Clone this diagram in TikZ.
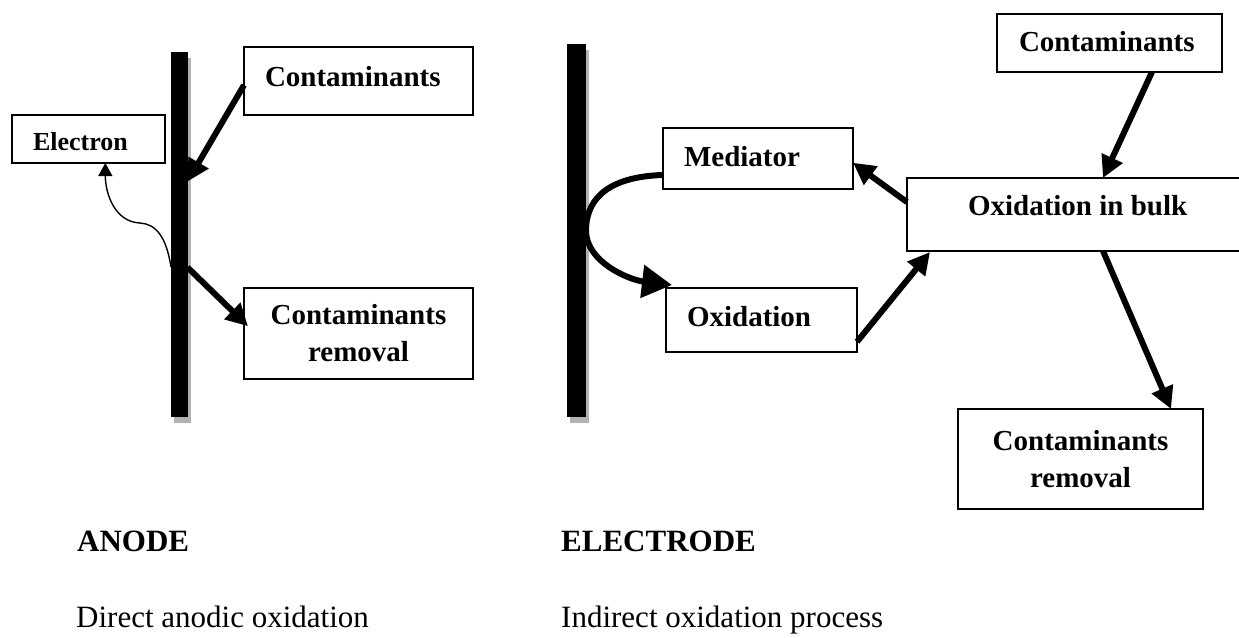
\documentclass[tikz,border=0pt]{standalone}
\usepackage{fontspec}
\setmainfont{Liberation Serif}
\usetikzlibrary{arrows.meta,calc,shadows}
\begin{document}
\begin{tikzpicture}[x=1pt,y=-1pt,
  box/.style={draw,line width=1.3pt,inner sep=0pt,outer sep=0pt,anchor=north west,font=\bfseries\fontsize{29}{37}\selectfont},
  bar/.style={fill=black,inner sep=0pt,outer sep=0pt,anchor=north west,drop shadow={shadow xshift=3pt,shadow yshift=-6pt,fill=black!30,opacity=1}},
  big/.style={line width=6pt,-{Triangle[length=22pt,width=22pt]}},
  curvy/.style={line width=6pt,-{Triangle[length=30pt,width=32pt]}},
  thinarrow/.style={line width=1.4pt,-{Triangle[length=13pt,width=14pt]}},
  caption/.style={anchor=base west,inner sep=0pt,font=\fontsize{31}{37}\selectfont},
  bcaption/.style={caption,font=\bfseries\fontsize{31}{37}\selectfont}
]
\useasboundingbox (0,0) rectangle (1239,637);

% electrodes
\node[bar,minimum width=16.5pt,minimum height=365pt] (bar1) at (171,52) {};
\node[bar,minimum width=19pt,minimum height=373pt] (bar2) at (567,44) {};

% boxes, left
\node[box,text height=39.7pt,text depth=28.3pt] (c1) at (244,47) {\makebox[229pt][l]{\hspace{21pt}Contaminants}};
\node[box,font=\bfseries\fontsize{26}{32}\selectfont,text height=35pt,text depth=13pt] (el) at (12,115) {\makebox[153pt][l]{\hspace{21pt}Electron}};
\node[box,minimum width=229pt,minimum height=91pt,align=center] (r1) at (244,288) {Contaminants\\removal};

% boxes, right
\node[box,text height=38.7pt,text depth=22.3pt] (med) at (663,128) {\makebox[190pt][l]{\hspace{21pt}Mediator}};
\node[box,text height=38.7pt,text depth=25.3pt] (ox) at (666,288) {\makebox[191pt][l]{\hspace{21pt}Oxidation}};
\node[box,text height=37pt,text depth=36pt] (bulk) at (907,178) {\makebox[343pt][l]{\hspace{61pt}Oxidation in bulk}};
\node[box,text height=37.7pt,text depth=20.3pt] (c2) at (997,14) {\makebox[225pt][l]{\hspace{22pt}Contaminants}};
\node[box,minimum width=245pt,minimum height=100pt,align=center] (r2) at (958,409) {Contaminants\\removal};

% captions
\node[bcaption] (anode) at (77,551.7) {ANODE};
\node[caption] (direct) at (76,627) {Direct anodic oxidation};
\node[bcaption] (electrode) at (561,551.7) {ELECTRODE};
\node[caption] (indirect) at (561,627) {Indirect oxidation process};

% left arrows
\draw[big] ($(c1.north west)!0.56!(c1.south west)$) -- ($(bar1.north east)!0.355!(bar1.south east)$);
\draw[big] ($(bar1.north east)!0.59!(bar1.south east)$) -- ($(r1.north west)!0.42!(r1.south west)+(4,0)$);
\coordinate (ew) at (140,223);
\draw[thinarrow] ($(bar1.north west)!0.589!(bar1.south west)$) .. controls +(-5,-32) and +(15,1) .. (ew) .. controls +(-25,-1) and +(0,31) .. ($(el.south west)!0.61!(el.south east)$);

% right arrows
\draw[curvy] ($(med.north west)!0.77!(med.south west)$) .. controls +(-63,2) and +(0,-25) .. (bar2.east) .. controls +(0,32) and +(-42,-5) .. ($(ox.north west)+(6,-3)$);
\draw[big] ($(bulk.north west)!0.33!(bulk.south west)$) -- ($(med.north east)!0.57!(med.south east)$);
\draw[big] ($(ox.north east)!0.84!(ox.south east)$) -- ($(bulk.south west)+(23,1)$);
\draw[big] ($(c2.south west)+(155,0)$) -- ($(bulk.north west)+(196,0)$);
\draw[big] ($(bulk.south west)+(196,0)$) -- ($(r2.north west)+(213,0)$);
\end{tikzpicture}
\end{document}
